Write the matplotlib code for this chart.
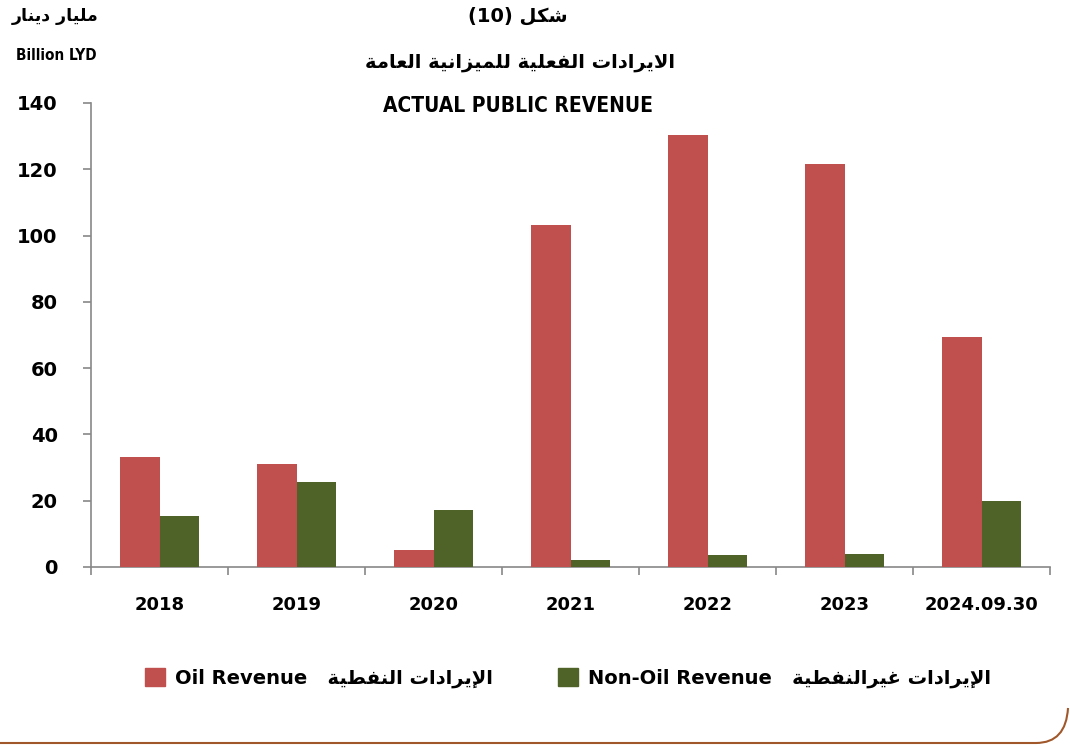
import matplotlib
matplotlib.use("Agg")
import matplotlib.pyplot as plt
import numpy as np
from matplotlib.patches import Patch, PathPatch
from matplotlib.path import Path

categories = ["2018", "2019", "2020", "2021", "2022", "2023", "2024.09.30"]
oil_revenue = [33.2, 31.1, 5.1, 103.2, 130.4, 121.6, 69.4]
non_oil_revenue = [15.4, 25.6, 17.2, 2.1, 3.6, 3.9, 19.9]

OIL_COLOR = "#c0504d"
NONOIL_COLOR = "#4f6228"

# minimal arabic shaping (matplotlib has no bidi / joining support)
AR_FORMS = {
    'ا': ('\ufe8d', '\ufe8e', None, None),
    'إ': ('\ufe87', '\ufe88', None, None),
    'ب': ('\ufe8f', '\ufe90', '\ufe91', '\ufe92'),
    'ة': ('\ufe93', '\ufe94', None, None),
    'ت': ('\ufe95', '\ufe96', '\ufe97', '\ufe98'),
    'د': ('\ufea9', '\ufeaa', None, None),
    'ر': ('\ufead', '\ufeae', None, None),
    'ز': ('\ufeaf', '\ufeb0', None, None),
    'ش': ('\ufeb5', '\ufeb6', '\ufeb7', '\ufeb8'),
    'ط': ('\ufec1', '\ufec2', '\ufec3', '\ufec4'),
    'ع': ('\ufec9', '\ufeca', '\ufecb', '\ufecc'),
    'غ': ('\ufecd', '\ufece', '\ufecf', '\ufed0'),
    'ف': ('\ufed1', '\ufed2', '\ufed3', '\ufed4'),
    'ك': ('\ufed9', '\ufeda', '\ufedb', '\ufedc'),
    'ل': ('\ufedd', '\ufede', '\ufedf', '\ufee0'),
    'م': ('\ufee1', '\ufee2', '\ufee3', '\ufee4'),
    'ن': ('\ufee5', '\ufee6', '\ufee7', '\ufee8'),
    'ي': ('\ufef1', '\ufef2', '\ufef3', '\ufef4'),
    'لا': ('\ufefb', '\ufefc', None, None),
    'لإ': ('\ufef9', '\ufefa', None, None),
}


def shape_ar(text):
    # join letters, then reverse for right-to-left display
    toks = []
    i = 0
    while i < len(text):
        if text[i:i + 2] in AR_FORMS:
            toks.append(text[i:i + 2])
            i += 2
        else:
            toks.append(text[i])
            i += 1
    out = []
    for k, t in enumerate(toks):
        if t not in AR_FORMS:
            out.append(t)
            continue
        iso, fin, ini, med = AR_FORMS[t]
        prev = toks[k - 1] if k > 0 else None
        nxt = toks[k + 1] if k + 1 < len(toks) else None
        jp = prev in AR_FORMS and AR_FORMS[prev][2] is not None
        jn = ini is not None and nxt in AR_FORMS
        if jp and jn:
            out.append(med)
        elif jp:
            out.append(fin)
        elif jn:
            out.append(ini)
        else:
            out.append(iso)
    return ''.join(reversed(out))


FAM = ['DejaVu Sans']

fig = plt.figure(figsize=(10.7, 7.46), dpi=100)
ax = fig.add_axes([91 / 1070, 1 - 567 / 746, (1050 - 91) / 1070, (567 - 103) / 746])

x = np.arange(len(categories))
w = 0.285
ax.bar(x - w / 2, oil_revenue, w, color=OIL_COLOR, zorder=3)
ax.bar(x + w / 2, non_oil_revenue, w, color=NONOIL_COLOR, zorder=3)

ax.set_xlim(-0.5, len(categories) - 0.5)
ax.set_ylim(0, 140)
ax.set_yticks(np.arange(0, 141, 20))
ax.set_xticks(x)
ax.set_xticklabels(categories, fontsize=13, fontweight='bold', family='DejaVu Sans')
ax.set_xticks(np.arange(-0.5, len(categories), 1), minor=True)
ax.tick_params(axis='x', which='major', length=0, pad=21)
ax.tick_params(axis='x', which='minor', length=6, color='#888888', width=1.2)
ax.tick_params(axis='y', length=6, color='#888888', width=1.2, pad=18)
for lbl in ax.get_yticklabels():
    lbl.set_fontsize(14)
    lbl.set_fontweight('bold')
    lbl.set_family('DejaVu Sans')
for s in ['top', 'right']:
    ax.spines[s].set_visible(False)
for s in ['left', 'bottom']:
    ax.spines[s].set_color('#888888')
    ax.spines[s].set_linewidth(1.2)

# titles
fig.text(518 / 1070, 1 - 16 / 746, "(10) " + shape_ar("شكل"), ha='center', va='center',
         fontsize=14, fontweight='bold', family=FAM)
fig.text(520 / 1070, 1 - 62 / 746, shape_ar("الايرادات الفعلية للميزانية العامة"), ha='center', va='center',
         fontsize=14, fontweight='bold', family=FAM)
fig.text(518 / 1070, 1 - 106 / 746, "ACTUAL PUBLIC REVENUE", ha='center', va='center',
         fontsize=15, fontweight='bold', family=FAM, fontstretch='condensed')
fig.text(55 / 1070, 1 - 16 / 746, shape_ar("مليار دينار"), ha='center', va='center',
         fontsize=12.5, fontweight='bold', family=FAM)
fig.text(56 / 1070, 1 - 56 / 746, "Billion LYD", ha='center', va='center',
         fontsize=11, fontweight='bold', family=FAM, fontstretch='condensed')

# legend
handles = [Patch(color=OIL_COLOR), Patch(color=NONOIL_COLOR)]
labels = ["Oil Revenue   " + shape_ar("الإيرادات النفطية"),
          "Non-Oil Revenue   " + shape_ar("الإيرادات غيرالنفطية")]
fig.legend(handles, labels, loc='center', bbox_to_anchor=(568 / 1070, 1 - 678 / 746), ncol=2,
           frameon=False, handlelength=1.0, handleheight=1.0, handletextpad=0.5,
           columnspacing=3.4, prop={'family': FAM, 'weight': 'bold', 'size': 14})

# rounded frame at the bottom
over = fig.add_axes([0, 0, 1, 1], zorder=-1)
over.set_xlim(0, 1070)
over.set_ylim(746, 0)
over.axis('off')
verts = [(0, 743), (1036, 743), (1066, 743), (1068, 708)]
codes = [Path.MOVETO, Path.LINETO, Path.CURVE3, Path.CURVE3]
over.add_patch(PathPatch(Path(verts, codes), fill=False, edgecolor='#a0582a', lw=1.5))

fig.savefig("out.png", dpi=100)
